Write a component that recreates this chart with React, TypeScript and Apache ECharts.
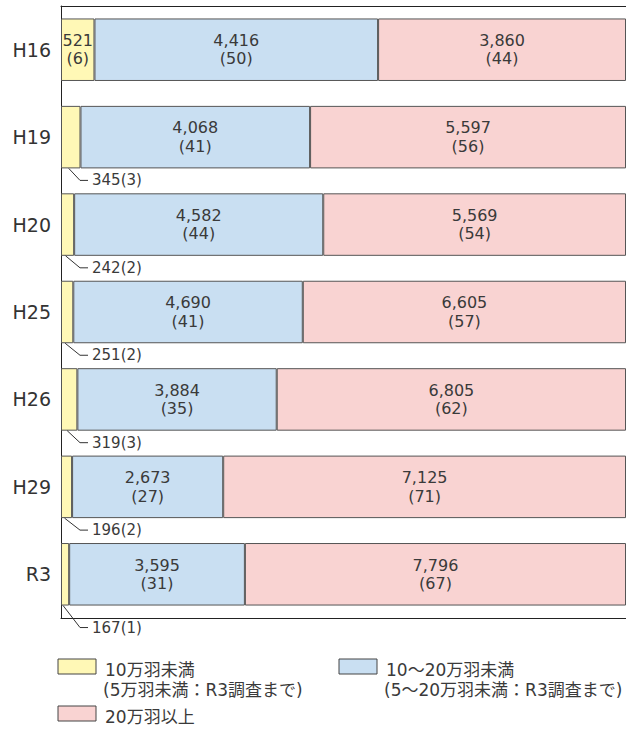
import React, { useEffect, useRef } from 'react';
import * as echarts from 'echarts';

const categories = ['H16', 'H19', 'H20', 'H25', 'H26', 'H29', 'R3'];
const seriesNames = ['10万羽未満', '10～20万羽未満', '20万羽以上'];
const legendNotes = ['(5万羽未満：R3調査まで)', '(5～20万羽未満：R3調査まで)', ''];
const small = [521, 345, 242, 251, 319, 196, 167];
const medium = [4416, 4068, 4582, 4690, 3884, 2673, 3595];
const large = [3860, 5597, 5569, 6605, 6805, 7125, 7796];
const smallPct = [6, 3, 2, 2, 3, 2, 1];
const mediumPct = [50, 41, 44, 41, 35, 27, 31];
const largePct = [44, 56, 54, 57, 62, 71, 67];

const COLORS = ['#FFF8B6', '#C9DFF2', '#F9D3D2'];
const FONT = '"DejaVu Sans", "Noto Sans CJK JP", sans-serif';
const TEXT = '#3a3a3a';

const raws = [small, medium, large];
const pcts = [smallPct, mediumPct, largePct];
const totals = categories.map((_, i) => small[i] + medium[i] + large[i]);
const shares = raws.map((arr) => arr.map((v, i) => (v / totals[i]) * 100));

const fmt = (n: number) => n.toLocaleString('en-US');

export default function App() {
  const ref = useRef<HTMLDivElement>(null);
  useEffect(() => {
    if (!ref.current) return;
    const chart = echarts.init(ref.current, undefined, { renderer: 'svg' });

    const barSeries = seriesNames.map((name, s) => ({
      name,
      type: 'bar',
      stack: 'total',
      barWidth: '71.5%',
      itemStyle: { color: COLORS[s], borderColor: '#555', borderWidth: 1 },
      label: {
        show: true,
        position: 'inside',
        fontSize: 16,
        lineHeight: 18.5,
        color: TEXT,
        fontFamily: FONT,
        formatter: (p: any) => `${fmt(raws[s][p.dataIndex])}\n(${pcts[s][p.dataIndex]})`,
      },
      data: shares[s].map((v) => ({ value: v, label: { show: v >= 5 } })),
    }));

    const annotData = shares[0]
      .map((v, i) => [v, i])
      .filter((d) => d[0] < 5);

    const graphicLegend: any[] = [];
    const legendPos = [
      { x: 58, y: 659 },
      { x: 339, y: 659 },
      { x: 58, y: 706 },
    ];
    seriesNames.forEach((name, i) => {
      const p = legendPos[i];
      graphicLegend.push({
        type: 'rect',
        shape: { x: p.x, y: p.y, width: 38, height: 15 },
        style: { fill: COLORS[i], stroke: '#444', lineWidth: 1 },
      });
      graphicLegend.push({
        type: 'text',
        x: p.x + 47,
        y: p.y + 11,
        style: { text: name, fontSize: 17, lineHeight: 17, fill: TEXT, fontFamily: FONT, verticalAlign: 'middle' },
      });
      if (legendNotes[i]) {
        graphicLegend.push({
          type: 'text',
          x: p.x + 45,
          y: p.y + 31,
          style: { text: legendNotes[i], fontSize: 17, lineHeight: 17, fill: TEXT, fontFamily: FONT, verticalAlign: 'middle' },
        });
      }
    });

    const frameLine = { show: true, lineStyle: { color: '#222', width: 1 } };

    chart.setOption({
      animation: false,
      grid: {
        left: 61,
        top: 6,
        width: 567,
        height: 612,
      },
      xAxis: [
        {
          type: 'value',
          min: 0,
          max: 100,
          position: 'bottom',
          axisLine: frameLine,
          axisTick: { show: false },
          axisLabel: { show: false },
          splitLine: { show: false },
        },
        {
          type: 'value',
          min: 0,
          max: 100,
          position: 'top',
          axisLine: frameLine,
          axisTick: { show: false },
          axisLabel: { show: false },
          splitLine: { show: false },
        },
      ],
      yAxis: {
        type: 'category',
        data: categories,
        inverse: true,
        axisLine: frameLine,
        axisTick: { show: false },
        axisLabel: { fontSize: 19, color: '#333', margin: 10, fontFamily: FONT },
      },
      graphic: graphicLegend,
      series: [
        ...barSeries,
        {
          type: 'custom',
          name: 'annotations',
          clip: false,
          z: 5,
          encode: { x: 0, y: 1 },
          data: annotData,
          renderItem: (_params: any, api: any) => {
            const share = api.value(0) as number;
            const idx = api.value(1) as number;
            const start = api.coord([share / 2, idx]);
            const base = api.coord([0, idx]);
            const band = api.size([0, 1])[1];
            const bottom = start[1] + band * 0.3575;
            const drop = idx === categories.length - 1 ? 22 : 12;
            const ly = bottom + drop;
            const sx = start[0] - 2;
            return {
              type: 'group',
              children: [
                {
                  type: 'polyline',
                  shape: { points: [[sx, bottom], [base[0] + 19, ly], [base[0] + 27, ly]] },
                  style: { stroke: '#333', lineWidth: 1, fill: 'none' },
                },
                {
                  type: 'text',
                  x: base[0] + 31,
                  y: ly,
                  style: {
                    text: `${fmt(small[idx])}(${smallPct[idx]})`,
                    fontSize: 15,
                    fill: TEXT,
                    fontFamily: FONT,
                    verticalAlign: 'middle',
                  },
                },
              ],
            };
          },
        },
      ],
    });
    return () => chart.dispose();
  }, []);
  return <div ref={ref} style={{ width: 626, height: 733, position: 'absolute', left: 0, top: 0 }} />;
}
